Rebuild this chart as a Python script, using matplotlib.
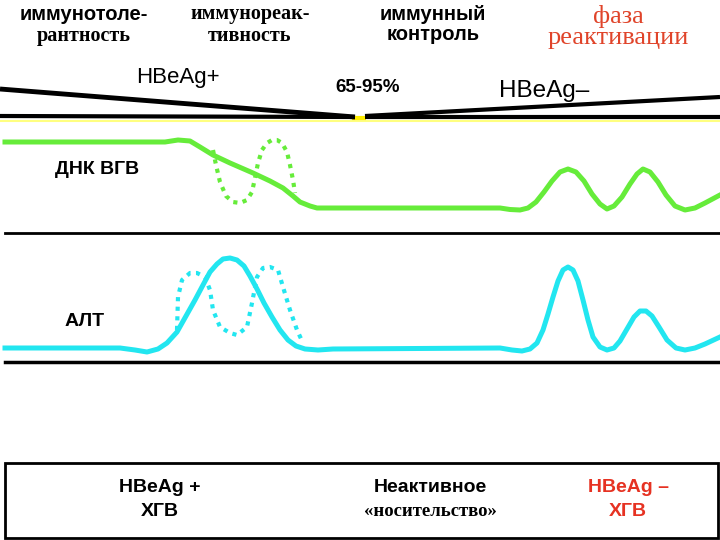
import matplotlib.pyplot as plt

# phase headers
phase_top = ["иммунотоле-", "иммунореак-", "иммунный", "фаза"]
phase_bottom = ["рантность", "тивность", "контроль", "реактивации"]
phase_x = [84, 250, 433, 618]

# DNA (HBV) curve, solid and dotted (flare variant)
dna_x = [5, 165, 178, 190, 200, 213, 230, 253, 270, 283, 293, 300, 310, 317,
         330, 500, 510, 520, 528, 536, 544, 552, 560, 568, 576, 584, 592, 600,
         607, 614, 622, 630, 637, 643, 650, 658, 666, 675, 685, 695, 705, 720]
dna_y = [142, 142, 140, 141, 147, 155, 163, 173, 181, 188, 196, 202, 206, 208,
         208, 208, 209.5, 210, 208, 202, 192, 181, 172, 169, 172, 181, 194, 204,
         209, 206, 197, 184, 174, 169, 172, 182, 195, 206, 210, 208, 203, 195]
dna_dot_x = [213, 216, 220, 226, 233, 240, 247, 252, 255, 258, 262, 267, 272,
             277, 282, 287, 290, 293, 295]
dna_dot_y = [150, 165, 182, 196, 202, 203, 200, 192, 178, 163, 150, 143, 140,
             140, 143, 152, 165, 180, 193]

# ALT curve, solid and dotted
alt_x = [5, 120, 135, 147, 158, 167, 177, 186, 195, 203, 210, 217, 223, 230,
         237, 244, 250, 257, 264, 272, 280, 288, 296, 305, 318, 333, 500, 512,
         522, 530, 537, 543, 548, 553, 558, 563, 568, 573, 578, 583, 588, 593,
         600, 607, 614, 620, 627, 634, 640, 646, 652, 659, 667, 676, 685, 695,
         705, 720]
alt_y = [348, 348, 350, 352, 349, 343, 332, 316, 300, 285, 272, 264, 259, 258,
         260, 266, 276, 289, 303, 317, 330, 340, 346, 349, 350, 349, 348, 350,
         351, 349, 343, 330, 314, 297, 281, 270, 267, 270, 281, 300, 320, 337,
         347, 350, 348, 341, 329, 317, 311, 311, 316, 327, 340, 348, 350, 348,
         344, 337]
alt_dot_x = [177, 178, 182, 190, 197, 205, 210, 213, 220, 230, 237, 247, 252,
             257, 263, 270, 278, 283, 290, 297, 303]
alt_dot_y = [330, 297, 280, 273, 273, 277, 290, 310, 327, 333, 335, 327, 303,
             277, 268, 267, 270, 287, 310, 330, 343]

GREEN = "#66ec3a"
CYAN = "#22e6f0"
RED = "#e0442a"
RED2 = "#e63222"
SANS = "Liberation Sans"
SERIF = "Liberation Serif"

fig = plt.figure(figsize=(7.2, 5.4), dpi=100)
ax = fig.add_axes([0, 0, 1, 1])
ax.set_xlim(0, 720)
ax.set_ylim(540, 0)
ax.axis("off")

# header texts
ax.text(phase_x[0], 14, phase_top[0], ha="center", va="center", fontsize=14.5,
        fontweight="bold", family=SANS)
ax.text(phase_x[0], 36, phase_bottom[0], ha="center", va="center", fontsize=14.5,
        fontweight="bold", family=SERIF)
ax.text(phase_x[1], 14, phase_top[1], ha="center", va="center", fontsize=14.5,
        fontweight="bold", family=SERIF)
ax.text(phase_x[1], 36, phase_bottom[1], ha="center", va="center", fontsize=14.5,
        fontweight="bold", family=SERIF)
ax.text(phase_x[2], 14, phase_top[2], ha="center", va="center", fontsize=14.5,
        fontweight="bold", family=SANS)
ax.text(phase_x[2], 35, phase_bottom[2], ha="center", va="center", fontsize=14.5,
        fontweight="bold", family=SANS)
ax.text(phase_x[3], 16, phase_top[3], ha="center", va="center", fontsize=19,
        family=SERIF, color=RED)
ax.text(phase_x[3], 38, phase_bottom[3], ha="center", va="center", fontsize=19,
        family=SERIF, color=RED)

ax.text(178, 78, "HBeAg+", ha="center", va="center", fontsize=16, family=SANS)
ax.text(368, 88, "65-95%", ha="center", va="center", fontsize=13.5,
        fontweight="bold", family=SANS)
ax.text(544, 91, "HBeAg\u2013", ha="center", va="center", fontsize=17.5, family=SANS)

# wedges
ax.plot([0, 720], [121, 121], color="#ffff80", lw=1.5)
ax.plot([352, 366], [118, 118], color="#ffee00", lw=3, solid_capstyle="butt")
ax.plot([0, 355], [89, 117], color="black", lw=3.5, solid_capstyle="butt")
ax.plot([0, 355], [116, 117], color="black", lw=3, solid_capstyle="butt")
ax.plot([365, 720], [116, 97], color="black", lw=3, solid_capstyle="butt")
ax.plot([365, 720], [117, 117], color="black", lw=3, solid_capstyle="butt")

# separators
ax.plot([5, 720], [233, 233], color="black", lw=2)
ax.plot([5, 720], [362, 362], color="black", lw=2.5)

# curves
ax.plot(dna_x, dna_y, color=GREEN, lw=3.6, solid_joinstyle="round")
ax.plot(dna_dot_x, dna_dot_y, color=GREEN, lw=3, linestyle=(0, (1, 1.3)))
ax.plot(alt_x, alt_y, color=CYAN, lw=3.6, solid_joinstyle="round")
ax.plot(alt_dot_x, alt_dot_y, color=CYAN, lw=3, linestyle=(0, (1, 1.3)))

ax.text(97, 169, "ДНК ВГВ", ha="center", va="center", fontsize=14,
        fontweight="bold", family=SANS)
ax.text(85, 321, "АЛТ", ha="center", va="center", fontsize=14,
        fontweight="bold", family=SANS)

# bottom box
ax.add_patch(plt.Rectangle((5, 463), 713, 75, fill=False, edgecolor="black", lw=2))
ax.text(160, 487, "HBeAg +", ha="center", va="center", fontsize=14,
        fontweight="bold", family=SANS)
ax.text(160, 511, "ХГВ", ha="center", va="center", fontsize=14,
        fontweight="bold", family=SANS)
ax.text(430, 487, "Неактивное", ha="center", va="center", fontsize=14,
        fontweight="bold", family=SANS)
ax.text(430, 511, "«носительство»", ha="center", va="center", fontsize=13.5,
        fontweight="bold", family=SERIF)
ax.text(629, 487, "HBeAg \u2013", ha="center", va="center", fontsize=14,
        fontweight="bold", family=SANS, color=RED2)
ax.text(628, 511, "ХГВ", ha="center", va="center", fontsize=14,
        fontweight="bold", family=SANS, color=RED2)

fig.savefig("out.png", dpi=100)
